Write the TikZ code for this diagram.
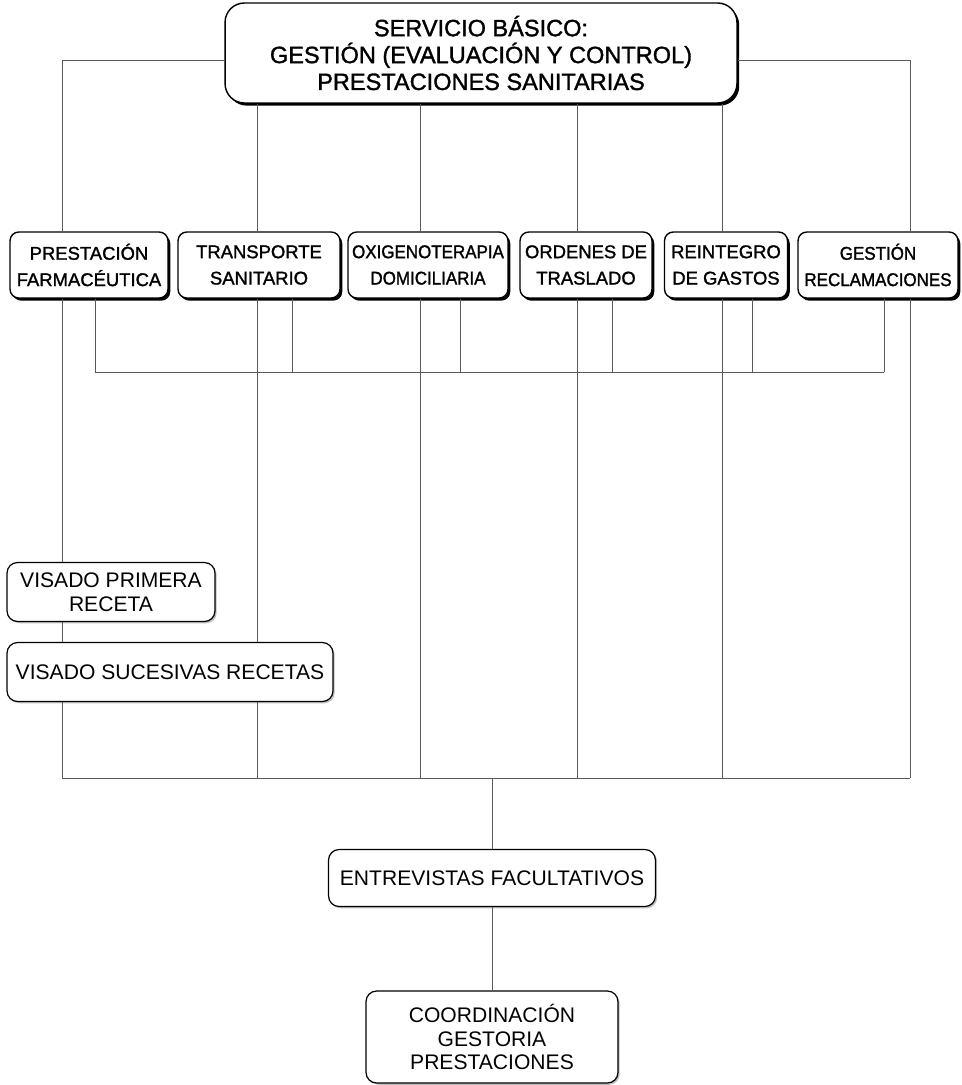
\documentclass[tikz,border=0pt]{standalone}
\usepackage{fontspec}
\setsansfont{Liberation Sans}
\newfontfamily\heavysf[FakeBold=1.4]{Liberation Sans}
\newfontfamily\narrowsf[FakeBold=1.4,FakeStretch=0.92]{Liberation Sans}
\usetikzlibrary{calc,shadows}

\begin{document}
\begin{tikzpicture}[x=0.02cm, y=-0.02cm,
    hbox/.style={draw, line width=0.8pt, fill=white, rounded corners=5pt, align=center, inner sep=0pt,
                 drop shadow={shadow xshift=1.3pt, shadow yshift=-1.5pt, fill=black, opacity=1}},
    sbox/.style={hbox, minimum height=1.32cm, font=\heavysf\fontsize{10.5}{15}\selectfont},
    lbox/.style={draw, line width=0.7pt, fill=white, rounded corners=6pt, align=center, inner sep=0pt,
                 font=\sffamily\fontsize{12}{13.6}\selectfont,
                 drop shadow={shadow xshift=1pt, shadow yshift=-1pt, fill=black!25, opacity=1}},
    con/.style={black!65, line width=0.5pt}]
  \useasboundingbox (0,0) rectangle (962,1085);
  % top
  \node[hbox, rounded corners=11pt, minimum width=10.24cm, minimum height=2cm,
        font=\heavysf\fontsize{13.4}{15.3}\selectfont] (top) at (481,53)
        {SERVICIO BÁSICO:\\GESTIÓN (EVALUACIÓN Y CONTROL)\\PRESTACIONES SANITARIAS};
  % services
  \node[sbox, minimum width=3.16cm] (pf) at (89,265) {PRESTACIÓN\\FARMACÉUTICA};
  \node[sbox, minimum width=3.24cm] (ts) at (259,265) {TRANSPORTE\\SANITARIO};
  \node[sbox, minimum width=3.2cm, font=\narrowsf\fontsize{10.5}{15}\selectfont] (od) at (428,265) {OXIGENOTERAPIA\\DOMICILIARIA};
  \node[sbox, minimum width=2.64cm] (ot) at (586,265) {ORDENES DE\\TRASLADO};
  \node[sbox, minimum width=2.46cm] (rg) at (726,265) {REINTEGRO\\DE GASTOS};
  \node[sbox, minimum width=3.2cm, font=\narrowsf\fontsize{10.5}{15}\selectfont] (gr) at (878,265) {GESTIÓN\\RECLAMACIONES};
  % visados
  \node[lbox, minimum width=4.16cm, minimum height=1.18cm] (vp) at (111,592) {VISADO PRIMERA\\RECETA};
  \node[lbox, minimum width=6.52cm, minimum height=1.18cm] (vs) at (170,672) {VISADO SUCESIVAS RECETAS};
  % bottom
  \node[lbox, minimum width=6.54cm, minimum height=1.14cm] (ef) at (492,878) {ENTREVISTAS FACULTATIVOS};
  \node[lbox, minimum width=5.04cm, minimum height=1.84cm] (cg) at (492,1037) {COORDINACIÓN\\GESTORIA\\PRESTACIONES};

  \foreach \n/\x in {c1/62,c2/257,c3/420,c4/577,c5/722,c6/910,b1/95,b2/292,b3/460,b4/612,b5/752,b6/884}
    \coordinate (\n) at (\x,0);
  \coordinate (inner) at (0,372);
  \coordinate (bus) at (0,778);

  \draw[con] ([yshift=-0.14cm]top.west) -| (pf.north -| c1);
  \draw[con] ([yshift=-0.14cm]top.east) -| (gr.north -| c6);
  \foreach \b/\c in {ts/c2,od/c3,ot/c4,rg/c5} \draw[con] (top.south -| \c) -- (\b.north -| \c);
  \foreach \b/\c in {pf/b1,ts/b2,od/b3,ot/b4,rg/b5,gr/b6} \draw[con] (\b.south -| \c) -- (inner -| \c);
  \draw[con] (inner -| b1) -- (inner -| b6);
  \draw[con] (pf.south -| c1) -- (vp.north -| c1); \draw[con] (vp.south -| c1) -- (vs.north -| c1);
  \draw[con] (ts.south -| c2) -- (vs.north -| c2);
  \foreach \c in {c1,c2} \draw[con] (vs.south -| \c) -- (bus -| \c);
  \foreach \b/\c in {od/c3,ot/c4,rg/c5,gr/c6} \draw[con] (\b.south -| \c) -- (bus -| \c);
  \draw[con] (bus -| c1) -- (bus -| c6);
  \draw[con] (bus -| ef.north) -- (ef.north); \draw[con] (ef) -- (cg);
\end{tikzpicture}
\end{document}
